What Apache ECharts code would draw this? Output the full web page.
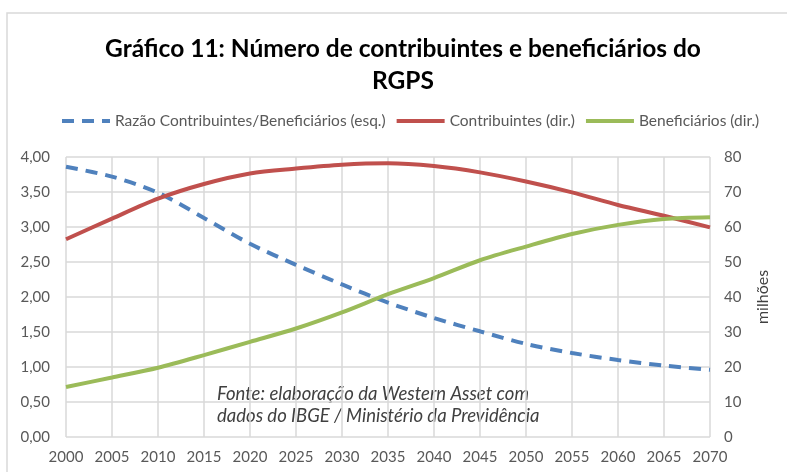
<!DOCTYPE html>
<html>
<head>
<meta charset="utf-8">
<script src="https://cdn.jsdelivr.net/npm/echarts@6/dist/echarts.min.js"></script>
<style>
  html, body { margin: 0; padding: 0; background: #fff; }
  #main { width: 787px; height: 472px; }
</style>
</head>
<body>
<div id="main"></div>
<script>
// dados (a cada 5 anos)
var anos = [2000, 2005, 2010, 2015, 2020, 2025, 2030, 2035, 2040, 2045, 2050, 2055, 2060, 2065, 2070];
var razao = [3.86, 3.72, 3.49, 3.13, 2.76, 2.46, 2.18, 1.92, 1.70, 1.51, 1.33, 1.20, 1.10, 1.02, 0.96];
var contribuintes = [56.5, 62.4, 68.1, 72.3, 75.3, 76.7, 77.8, 78.2, 77.4, 75.6, 73.0, 69.9, 66.3, 63.2, 59.9];
var beneficiarios = [14.3, 17.0, 19.8, 23.4, 27.2, 31.0, 35.6, 40.8, 45.4, 50.5, 54.4, 58.0, 60.6, 62.3, 62.8];

var nomes = ['Razão Contribuintes/Beneficiários (esq.)', 'Contribuintes (dir.)', 'Beneficiários (dir.)'];

function pares(vals) {
    return anos.map(function (a, i) { return [a, vals[i]]; });
}

var fonte = 'Lato, "Open Sans", sans-serif';
var cinza = '#595959';

var myChart = echarts.init(document.getElementById('main'));

var option = {
    animation: false,
    textStyle: { fontFamily: fonte },
    title: {
        text: 'Gráfico 11: Número de contribuintes e beneficiários do\nRGPS',
        left: 398,
        textAlign: 'center',
        top: 28,
        textStyle: { fontSize: 24.5, fontWeight: 'bold', color: '#000', lineHeight: 32, fontFamily: fonte }
    },
    legend: {
        data: nomes,
        top: 108,
        left: 55,
        itemWidth: 48,
        itemHeight: 10,
        itemGap: 9,
        itemStyle: { opacity: 0 },
        lineStyle: { width: 4 },
        textStyle: { fontSize: 15.5, color: cinza, fontFamily: fonte }
    },
    grid: { left: 66, right: 77, top: 157, bottom: 35 },
    xAxis: {
        type: 'value',
        min: 2000,
        max: 2070,
        interval: 5,
        axisLine: { show: false },
        axisTick: { show: false },
        axisLabel: {
            color: cinza, fontSize: 15, margin: 13,
            formatter: function (v) { return String(v); }
        },
        splitLine: { show: true, lineStyle: { color: '#d9d9d9', width: 1.5 } }
    },
    yAxis: [
        {
            type: 'value',
            min: 0, max: 4, interval: 0.5,
            axisLine: { show: false },
            axisTick: { show: false },
            axisLabel: {
                color: cinza, fontSize: 15, margin: 16,
                formatter: function (v) { return v.toFixed(2).replace('.', ','); }
            },
            splitLine: { lineStyle: { color: '#d9d9d9', width: 1.5 } }
        },
        {
            type: 'value',
            min: 0, max: 80, interval: 10,
            name: 'milhões',
            nameLocation: 'middle',
            nameRotate: 90,
            nameGap: 45,
            nameTextStyle: { color: '#404040', fontSize: 16, fontFamily: fonte },
            axisLine: { show: false },
            axisTick: { show: false },
            axisLabel: { color: cinza, fontSize: 15, margin: 14 },
            splitLine: { show: false }
        }
    ],
    series: [
        {
            name: nomes[0],
            type: 'line',
            yAxisIndex: 0,
            data: pares(razao),
            smooth: 0.3,
            symbol: 'none',
            lineStyle: { color: '#4f81bd', width: 4, type: [12, 8] },
            itemStyle: { color: '#4f81bd' }
        },
        {
            name: nomes[1],
            type: 'line',
            yAxisIndex: 1,
            data: pares(contribuintes),
            smooth: 0.3,
            symbol: 'none',
            lineStyle: { color: '#c0504d', width: 4 },
            itemStyle: { color: '#c0504d' }
        },
        {
            name: nomes[2],
            type: 'line',
            yAxisIndex: 1,
            data: pares(beneficiarios),
            smooth: 0.3,
            symbol: 'none',
            lineStyle: { color: '#9bbb59', width: 4 },
            itemStyle: { color: '#9bbb59' }
        }
    ],
    graphic: [
        {
            type: 'rect',
            silent: true,
            shape: { x: 7, y: 13, width: 820, height: 520 },
            style: { fill: 'none', stroke: '#d9d9d9', lineWidth: 1.5 }
        },
        {
            type: 'text',
            left: 217,
            top: 383,
            style: {
                text: 'Fonte: elaboração da Western Asset com\ndados do IBGE / Ministério da Previdência',
                font: 'italic 18.5px ' + fonte,
                fill: '#404040',
                lineHeight: 22
            }
        }
    ]
};

myChart.setOption(option);
</script>
</body>
</html>
